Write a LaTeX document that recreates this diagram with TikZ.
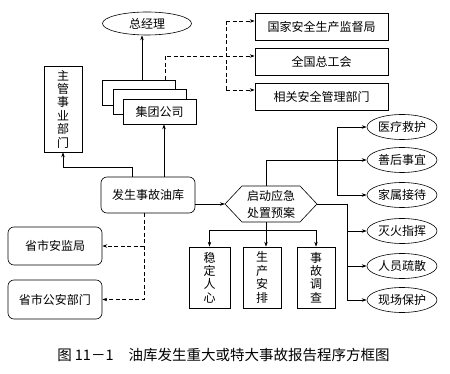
\documentclass[tikz,border=0pt]{standalone}
\usepackage{fontspec}
\setmainfont{Noto Sans CJK SC}
\usetikzlibrary{arrows.meta,shapes.geometric}
\begin{document}
\begin{tikzpicture}[x=1pt,y=-1pt,
  every node/.style={font=\fontsize{12}{13.4}\selectfont, inner sep=0pt, align=center},
  ln/.style={line width=0.6pt},
  box/.style={ln, draw, rectangle, fill=white},
  rbox/.style={ln, draw, rectangle, rounded corners=6pt, fill=white, minimum width=94pt},
  ell/.style={ln, draw, ellipse, minimum width=70pt, minimum height=25pt},
  vbox/.style={box, minimum width=39pt, minimum height=61pt},
  arr/.style={ln, -{Stealth[length=5pt,width=3.4pt]}},
  dsh/.style={ln, dash pattern=on 4pt off 2.5pt},
]
\useasboundingbox (0,0) rectangle (450,374);

% top
\node[ell, minimum width=89pt, minimum height=23pt] (gm) at (147,23.5) {总经理};
\node[box, minimum width=38pt, minimum height=86pt] (zg) at (63,109) {主\\管\\事\\业\\部\\门};

\node[box, minimum width=73pt, minimum height=25pt] (back) at (138.5,92.5) {};
\node[box, minimum width=73pt, minimum height=25pt] (mid) at (149.5,101.5) {};
\node[box, minimum width=73pt, minimum height=25pt] (front) at (159.5,111.5) {集团公司};

\node[box, minimum width=133pt, minimum height=27pt] (r1) at (321.5,26.5) {国家安全生产监督局};
\node[box, minimum width=133pt, minimum height=27pt] (r2) at (321.5,61.5) {全国总工会};
\node[box, minimum width=133pt, minimum height=27pt] (r3) at (321.5,96.5) {相关安全管理部门};

% middle
\node[rbox, minimum height=36pt] (oil) at (148,195) {发生事故油库};
\node[rbox, minimum height=38pt] (aj) at (55,246) {省市安监局};
\node[rbox, minimum height=39pt] (ga) at (55,299.5) {省市公安部门};

\node[font=\fontsize{12}{17}\selectfont] (hex) at (271,204) {启动应急\\处置预案};
\coordinate (hexW) at (225,204);
\coordinate (hexE) at (317,204);
\coordinate (hexN) at (266,186);
\coordinate (hexS) at (266,222);
\draw[ln] (hexW) -- (242,186) -- (300,186) -- (hexE) -- (300,222) -- (242,222) -- cycle;

\node[vbox, minimum width=41pt] (b1) at (209.5,277.5) {稳\\定\\人\\心};
\node[vbox, minimum width=38pt] (b2) at (262,277.5) {生\\产\\安\\排};
\node[vbox, minimum width=38pt] (b3) at (316,277.5) {事\\故\\调\\查};

\node[ell] (e1) at (402,127) {医疗救护};
\node[ell] (e2) at (402,160) {善后事宜};
\node[ell] (e3) at (402,195) {家属接待};
\node[ell] (e4) at (402,231) {灭火指挥};
\node[ell] (e5) at (402,266) {人员疏散};
\node[ell] (e6) at (402,300) {现场保护};

\node[font=\fontsize{14.5}{16}\selectfont] (cap) at (223.5,355) {图\hspace{3pt}11－1\hspace{15pt}油库发生重大或特大事故报告程序方框图};

% connectors top
\draw[arr] ([xshift=3.5pt]back.north) -- ([xshift=3.5pt]back.north |- gm.south);
\coordinate (dTop) at (226,21);
\coordinate (dMid) at (226,56);
\coordinate (dBot) at (226,90);
\draw[dsh] ([xshift=26.5pt]back.north) |- (dMid);
\draw[dsh] (dTop) -- (dBot);
\draw[dsh, arr] (dTop) -- (dTop -| r1.west);
\draw[dsh, arr] (dMid) -- (dMid -| r2.west);
\draw[dsh, arr] (dBot) -- (dBot -| r3.west);

\draw[arr] ([xshift=-16pt]oil.north) -- ++(0,-9) -| (zg.south);
\draw[arr] ([xshift=16pt]oil.north) -- ([xshift=16pt]oil.north |- front.south);

% left dashed
\draw[dsh, arr] ([xshift=-4pt]oil.south) |- (ga.east);
\draw[dsh, arr] ([xshift=-4pt]oil.south |- aj.east) -- (aj.east);

% to hexagon
\draw[arr] (oil.east |- hexW) -- (hexW);

% bottom boxes
\coordinate (jB) at (266,230);
\draw[ln] (hexS) -- (jB);
\draw[arr] (jB) -| (b1.north);
\draw[arr] (jB) -| (b3.north);
\draw[arr] (jB) -- (jB |- b2.north);

% right upper group
\coordinate (jL) at (337,160);
\draw[arr] (hexN) |- (e2.west);
\draw[arr] (jL) |- (e1.west);
\draw[arr] (jL) |- (e3.west);

% right lower group
\coordinate (jR) at (347,204);
\draw[ln] (hexE) -- (jR);
\draw[arr] (jR) |- (e4.west);
\draw[arr] (jR) |- (e5.west);
\draw[arr] (jR) |- (e6.west);
\end{tikzpicture}
\end{document}
